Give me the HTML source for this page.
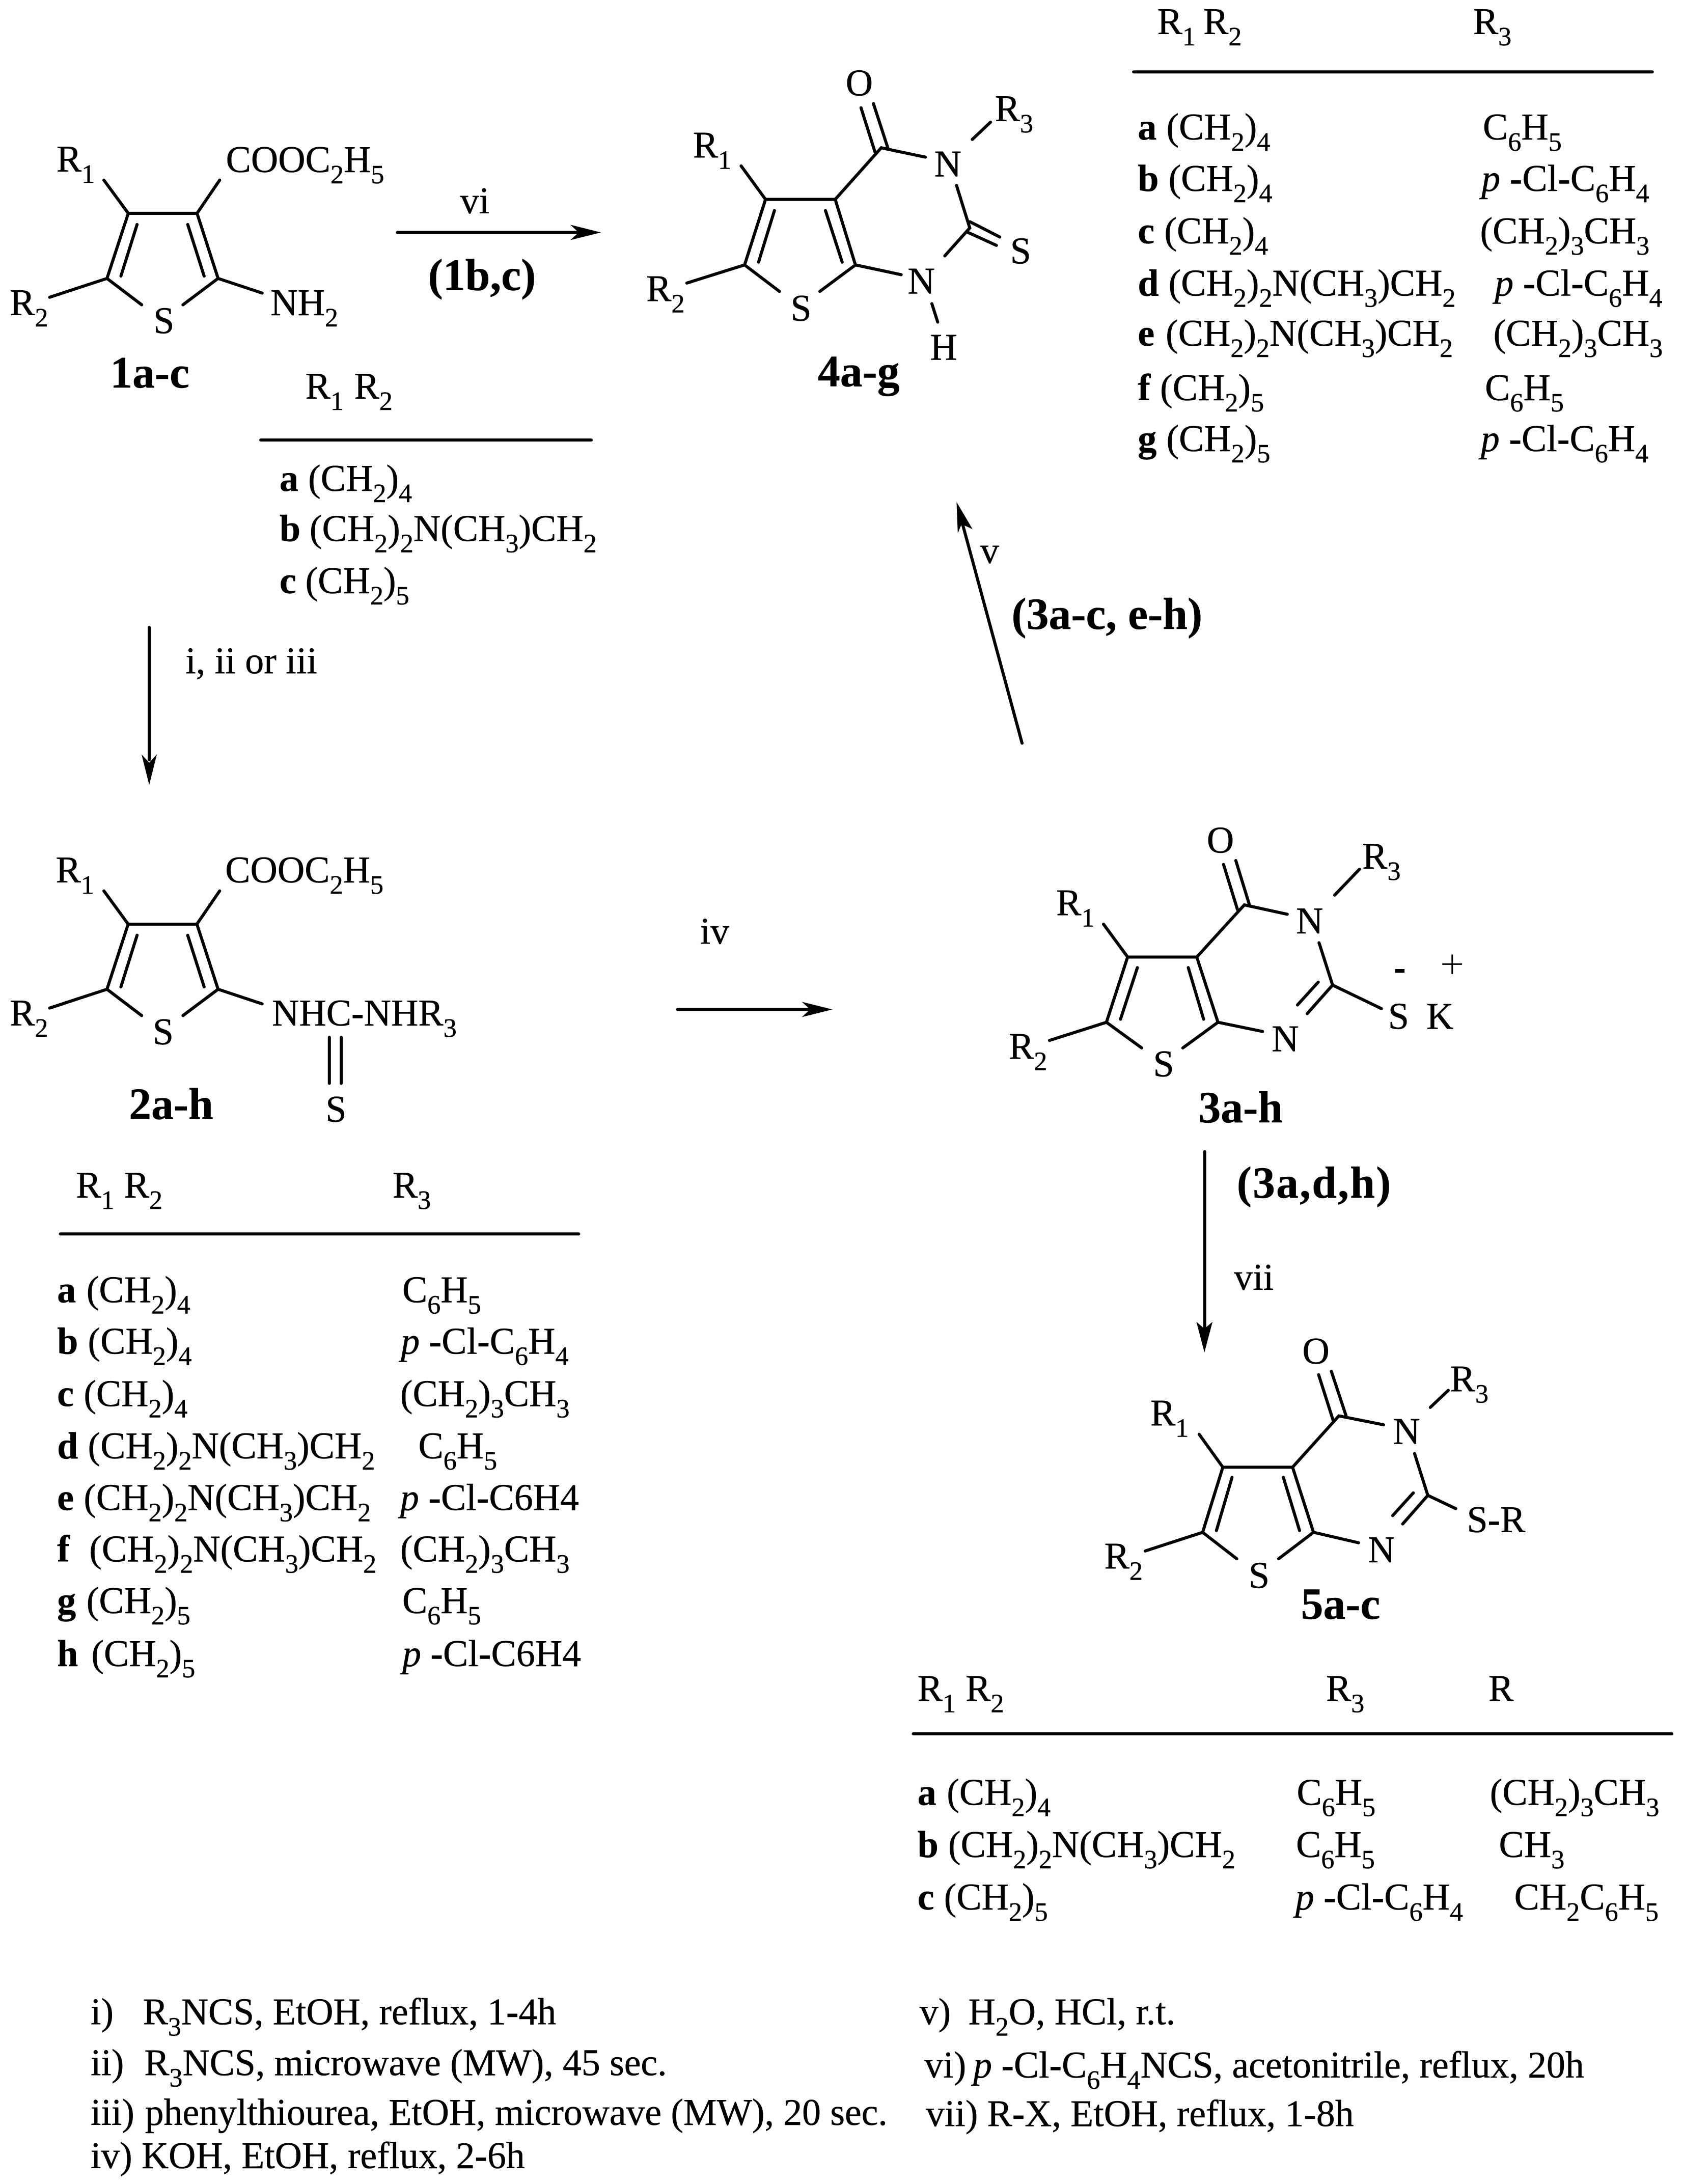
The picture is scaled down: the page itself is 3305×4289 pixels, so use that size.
<!DOCTYPE html>
<html><head><meta charset="utf-8"><style>
html,body{margin:0;padding:0;background:#fff}
svg{display:block;width:3305px;height:4289px}
text{font-family:"Liberation Serif",serif;font-size:27px;fill:#000;stroke:#000;stroke-width:.18;transform:translate(-1px,0)}
.s{font-size:19px;baseline-shift:-8px}
.b{font-weight:bold}
.l{font-weight:bold;font-size:32px}
.bd{stroke:#000;stroke-width:2.2;stroke-linecap:round;fill:none}
.i{font-style:italic}
.f{font-size:26.9px}
</style></head><body>
<svg xmlns="http://www.w3.org/2000/svg" viewBox="0 0 1207 1566.4">
<rect width="1207" height="1566.4" fill="#fff"/>
<!-- Compound 1 -->
<path class="bd" d="M92 153H141.300L156.400 199.700L131.200 218.600M92 153L76.700 199.700L101.600 218.600M98.300 161L86.700 198M134.600 161L146.400 198M92 153L74.500 129.200M141.300 153L157.500 129.200M76.700 199.700L35.600 213.200M156.400 199.700L188 210.200"/>
<text x="41.500" y="123">R<tspan class="s">1</tspan></text>
<text x="163" y="123.500">COOC<tspan class="s">2</tspan>H<tspan class="s">5</tspan></text>
<text x="8" y="226">R<tspan class="s">2</tspan></text>
<text x="111" y="239">S</text>
<text x="195" y="226">NH<tspan class="s">2</tspan></text>
<text class="l" x="80" y="278">1a-c</text>
<!-- vi arrow -->
<text x="331" y="153">vi</text>
<path class="bd" d="M285 166.700H420"/><polygon points="431,166.700 409,161.200 415,166.700 409,172.200"/>
<text class="l" x="308" y="208">(1b,c)</text>
<!-- table 1 -->
<text x="220" y="286">R<tspan class="s">1</tspan></text><text x="255" y="286">R<tspan class="s">2</tspan></text>
<path class="bd" d="M187 315.600H424"/>
<text x="201.500" y="352"><tspan class="b">a</tspan></text><text x="222" y="352">(CH<tspan class="s">2</tspan>)<tspan class="s">4</tspan></text>
<text x="201.500" y="388"><tspan class="b">b</tspan></text><text x="223" y="388">(CH<tspan class="s">2</tspan>)<tspan class="s">2</tspan>N(CH<tspan class="s">3</tspan>)CH<tspan class="s">2</tspan></text>
<text x="201.500" y="425.500"><tspan class="b">c</tspan></text><text x="220" y="425.500">(CH<tspan class="s">2</tspan>)<tspan class="s">5</tspan></text>
<!-- i, ii arrow -->
<path class="bd" d="M107 450V545"/><polygon points="107,563 101.500,541 107,547 112.500,541"/>
<text x="134" y="483">i, ii or iii</text>
<!-- Compound 2 -->
<path class="bd" d="M91.900 662.800H141.200L156.400 709.500L131.200 728.400M91.900 662.800L76.700 709.500L101.600 728.400M98.300 670.800L86.700 707.800M134.600 670.800L146.400 707.800M91.900 662.800L74.500 639M141.200 662.800L157.500 639M76.700 709.500L35.600 723M156.400 709.500L188 720M236.200 744V777M244.700 744V777"/>
<text x="41" y="633">R<tspan class="s">1</tspan></text>
<text x="162.500" y="633">COOC<tspan class="s">2</tspan>H<tspan class="s">5</tspan></text>
<text x="8" y="735.500">R<tspan class="s">2</tspan></text>
<text x="110.500" y="749">S</text>
<text x="196" y="735.500">NHC<tspan class="b">-</tspan>NHR<tspan class="s">3</tspan></text>
<text x="234.500" y="804.500">S</text>
<text class="l" x="93.500" y="802.500">2a-h</text>
<!-- table 2 -->
<text x="55.500" y="859">R<tspan class="s">1</tspan></text><text x="90" y="859">R<tspan class="s">2</tspan></text><text x="282.500" y="859">R<tspan class="s">3</tspan></text>
<path class="bd" d="M43.300 885H415"/>
<text x="42" y="934"><tspan class="b">a</tspan></text><text x="63" y="934">(CH<tspan class="s">2</tspan>)<tspan class="s">4</tspan></text><text x="289.500" y="934">C<tspan class="s">6</tspan>H<tspan class="s">5</tspan></text>
<text x="42" y="971"><tspan class="b">b</tspan></text><text x="64" y="971">(CH<tspan class="s">2</tspan>)<tspan class="s">4</tspan></text><text x="288.500" y="971"><tspan class="i">p</tspan> <tspan class="b">-</tspan>Cl<tspan class="b">-</tspan>C<tspan class="s">6</tspan>H<tspan class="s">4</tspan></text>
<text x="42" y="1008.500"><tspan class="b">c</tspan></text><text x="61" y="1008.500">(CH<tspan class="s">2</tspan>)<tspan class="s">4</tspan></text><text x="288" y="1008.500">(CH<tspan class="s">2</tspan>)<tspan class="s">3</tspan>CH<tspan class="s">3</tspan></text>
<text x="42" y="1046"><tspan class="b">d</tspan></text><text x="64" y="1046">(CH<tspan class="s">2</tspan>)<tspan class="s">2</tspan>N(CH<tspan class="s">3</tspan>)CH<tspan class="s">2</tspan></text><text x="301" y="1046">C<tspan class="s">6</tspan>H<tspan class="s">5</tspan></text>
<text x="42" y="1083"><tspan class="b">e</tspan></text><text x="61" y="1083">(CH<tspan class="s">2</tspan>)<tspan class="s">2</tspan>N(CH<tspan class="s">3</tspan>)CH<tspan class="s">2</tspan></text><text x="288" y="1083"><tspan class="i">p</tspan> <tspan class="b">-</tspan>Cl<tspan class="b">-</tspan>C6H4</text>
<text x="42" y="1120"><tspan class="b">f</tspan></text><text x="65" y="1120">(CH<tspan class="s">2</tspan>)<tspan class="s">2</tspan>N(CH<tspan class="s">3</tspan>)CH<tspan class="s">2</tspan></text><text x="288" y="1120">(CH<tspan class="s">2</tspan>)<tspan class="s">3</tspan>CH<tspan class="s">3</tspan></text>
<text x="42" y="1157"><tspan class="b">g</tspan></text><text x="63" y="1157">(CH<tspan class="s">2</tspan>)<tspan class="s">5</tspan></text><text x="289.500" y="1157">C<tspan class="s">6</tspan>H<tspan class="s">5</tspan></text>
<text x="42" y="1195"><tspan class="b">h</tspan></text><text x="66.500" y="1195">(CH<tspan class="s">2</tspan>)<tspan class="s">5</tspan></text><text x="289.500" y="1195"><tspan class="i">p</tspan> <tspan class="b">-</tspan>Cl<tspan class="b">-</tspan>C6H4</text>
<!-- iv arrow -->
<text x="503" y="677">iv</text>
<path class="bd" d="M486 724H586"/><polygon points="597,724 575,718.500 581,724 575,729.500"/>
<!-- Compound 4 -->
<path class="bd" d="M549 143H599L613.500 190L588 209M549 143L534 190L559 209M555.400 151L544 188M592 151L604 188M549 143L531.500 119M534 190L492.600 203M599 143L632 106L663.600 112.700M617.500 77.300L627.500 109M626.400 74.300L636.700 106M697.300 100L710.400 87.600M686 133L695.500 163.500L677.600 183.500M695.500 159L717 170M694 166.600L714.600 176M613.500 190L646.300 197M668.300 217.800L672.500 231"/>
<text x="607.500" y="68.500">O</text>
<text x="498" y="113">R<tspan class="s">1</tspan></text>
<text x="671" y="126.500">N</text>
<text x="714.500" y="87">R<tspan class="s">3</tspan></text>
<text x="725.500" y="189">S</text>
<text x="464.500" y="216">R<tspan class="s">2</tspan></text>
<text x="568" y="230">S</text>
<text x="652" y="210.500">N</text>
<text x="668" y="258">H</text>
<text class="l" x="587.500" y="277">4a-g</text>
<!-- table 4 -->
<text x="831" y="24.500">R<tspan class="s">1</tspan></text><text x="864" y="24.500">R<tspan class="s">2</tspan></text><text x="1057.500" y="24.500">R<tspan class="s">3</tspan></text>
<path class="bd" d="M813 51.600H1185"/>
<text x="817" y="100"><tspan class="b">a</tspan></text><text x="837.500" y="100">(CH<tspan class="s">2</tspan>)<tspan class="s">4</tspan></text><text x="1064.500" y="100">C<tspan class="s">6</tspan>H<tspan class="s">5</tspan></text>
<text x="817" y="137"><tspan class="b">b</tspan></text><text x="839" y="137">(CH<tspan class="s">2</tspan>)<tspan class="s">4</tspan></text><text x="1063.500" y="137"><tspan class="i">p</tspan> <tspan class="b">-</tspan>Cl<tspan class="b">-</tspan>C<tspan class="s">6</tspan>H<tspan class="s">4</tspan></text>
<text x="817" y="174.500"><tspan class="b">c</tspan></text><text x="836" y="174.500">(CH<tspan class="s">2</tspan>)<tspan class="s">4</tspan></text><text x="1062.500" y="174.500">(CH<tspan class="s">2</tspan>)<tspan class="s">3</tspan>CH<tspan class="s">3</tspan></text>
<text x="817" y="212"><tspan class="b">d</tspan></text><text x="839" y="212">(CH<tspan class="s">2</tspan>)<tspan class="s">2</tspan>N(CH<tspan class="s">3</tspan>)CH<tspan class="s">2</tspan></text><text x="1073" y="212"><tspan class="i">p</tspan> <tspan class="b">-</tspan>Cl<tspan class="b">-</tspan>C<tspan class="s">6</tspan>H<tspan class="s">4</tspan></text>
<text x="817" y="248"><tspan class="b">e</tspan></text><text x="837" y="248">(CH<tspan class="s">2</tspan>)<tspan class="s">2</tspan>N(CH<tspan class="s">3</tspan>)CH<tspan class="s">2</tspan></text><text x="1072" y="248">(CH<tspan class="s">2</tspan>)<tspan class="s">3</tspan>CH<tspan class="s">3</tspan></text>
<text x="817" y="287"><tspan class="b">f</tspan></text><text x="833" y="287">(CH<tspan class="s">2</tspan>)<tspan class="s">5</tspan></text><text x="1066" y="287">C<tspan class="s">6</tspan>H<tspan class="s">5</tspan></text>
<text x="817" y="323.500"><tspan class="b">g</tspan></text><text x="837.500" y="323.500">(CH<tspan class="s">2</tspan>)<tspan class="s">5</tspan></text><text x="1063" y="323.500"><tspan class="i">p</tspan> <tspan class="b">-</tspan>Cl<tspan class="b">-</tspan>C<tspan class="s">6</tspan>H<tspan class="s">4</tspan></text>
<!-- v arrow -->
<path class="bd" d="M733 533L689 371"/><polygon points="686,360 697.500,379.500 689.600,376 686.900,382.400"/>
<text x="704" y="404">v</text>
<text class="l" x="726.500" y="451">(3a-c, e-h)</text>
<!-- Compound 3 -->
<path class="bd" d="M808.700 686.400H858.300L873.500 733.200L848.300 751.600M808.700 686.400L793.500 733.200L818.800 751.600M815.700 694L803.600 731M852.200 694L863.200 731M808.700 686.400L791.400 662.800M793.500 733.200L752.700 746.200M858.300 686.400L892.400 649L923.200 655.700M877.500 620L887.500 652.400M886.300 617.200L896 648.800M957.200 642L975 623.400M946 676.200L955.700 706.500L937.500 727M945.400 704.400L930.500 720.800M955.700 706.500L990.700 723.400M873.500 733.200L905.500 739.800"/>
<path d="M1034.400 691.500H1048.500M1041.500 684.600V698.600" stroke="#000" stroke-width="1.100" fill="none"/>
<rect x="1000.500" y="695" width="6.800" height="2.700"/>
<text x="866.500" y="611.500">O</text>
<text x="758.500" y="656.500">R<tspan class="s">1</tspan></text>
<text x="930.500" y="669.500">N</text>
<text x="978" y="623">R<tspan class="s">3</tspan></text>
<text x="996.500" y="738">S</text>
<text x="1024" y="738">K</text>
<text x="724.500" y="759.500">R<tspan class="s">2</tspan></text>
<text x="913" y="754">N</text>
<text x="828" y="772">S</text>
<text class="l" x="860.500" y="805">3a-h</text>
<!-- down arrow -->
<path class="bd" d="M864 826V952"/><polygon points="863.800,970 858,948 863.800,953 869.600,948"/>
<text class="l" x="888" y="859" style="letter-spacing:.8px">(3a,d,h)</text>
<text x="886" y="925">vii</text>
<!-- Compound 5 -->
<path class="bd" d="M877 1052.300H927L942 1099L917 1118M877 1052.300L862.500 1099L887 1118M883.600 1059.600L872.400 1097.700M920.400 1059.600L932 1097.700M877 1052.300L860 1028.700M862.500 1099L821.300 1112.400M927 1052.300L960.200 1015.500L992.300 1021.900M945.700 986L956.200 1019M954.800 983.500L965.400 1015.500M1025.800 1009.400L1038.700 997.200M1014.500 1042.600L1024 1072.500L1006 1093M1013.600 1070.700L998.800 1087M1024 1072.500L1044 1082M942 1099L974.300 1106.500"/>
<text x="935" y="978">O</text>
<text x="826" y="1022.500">R<tspan class="s">1</tspan></text>
<text x="1000" y="1035.500">N</text>
<text x="1041" y="998">R<tspan class="s">3</tspan></text>
<text x="1053" y="1099">S<tspan class="b">-</tspan>R</text>
<text x="793" y="1125">R<tspan class="s">2</tspan></text>
<text x="982" y="1120.500">N</text>
<text x="896.500" y="1139">S</text>
<text class="l" x="934" y="1161">5a-c</text>
<!-- table 5 -->
<text x="659" y="1220">R<tspan class="s">1</tspan></text><text x="693.500" y="1220">R<tspan class="s">2</tspan></text><text x="952" y="1220">R<tspan class="s">3</tspan></text><text x="1068.500" y="1220">R</text>
<path class="bd" d="M655 1243.500H1199"/>
<text x="659" y="1294.500"><tspan class="b">a</tspan></text><text x="680" y="1294.500">(CH<tspan class="s">2</tspan>)<tspan class="s">4</tspan></text><text x="931" y="1294.500">C<tspan class="s">6</tspan>H<tspan class="s">5</tspan></text><text x="1069.500" y="1294.500">(CH<tspan class="s">2</tspan>)<tspan class="s">3</tspan>CH<tspan class="s">3</tspan></text>
<text x="659" y="1332"><tspan class="b">b</tspan></text><text x="681" y="1332">(CH<tspan class="s">2</tspan>)<tspan class="s">2</tspan>N(CH<tspan class="s">3</tspan>)CH<tspan class="s">2</tspan></text><text x="930.500" y="1332">C<tspan class="s">6</tspan>H<tspan class="s">5</tspan></text><text x="1076" y="1332">CH<tspan class="s">3</tspan></text>
<text x="659" y="1369.500"><tspan class="b">c</tspan></text><text x="678" y="1369.500">(CH<tspan class="s">2</tspan>)<tspan class="s">5</tspan></text><text x="930" y="1369.500"><tspan class="i">p</tspan> <tspan class="b">-</tspan>Cl<tspan class="b">-</tspan>C<tspan class="s">6</tspan>H<tspan class="s">4</tspan></text><text x="1087" y="1369.500">CH<tspan class="s">2</tspan>C<tspan class="s">6</tspan>H<tspan class="s">5</tspan></text>
<!-- footnotes -->
<text class="f" x="66" y="1452">i)</text><text class="f" x="103.500" y="1452">R<tspan class="s">3</tspan>NCS, EtOH, reflux, 1<tspan class="b">-</tspan>4h</text>
<text class="f" x="66" y="1488.500">ii)</text><text class="f" x="104.500" y="1488.500">R<tspan class="s">3</tspan>NCS, microwave (MW), 45 sec.</text>
<text class="f" x="66" y="1524">iii)</text><text class="f" x="105" y="1524">phenylthiourea, EtOH, microwave (MW), 20 sec.</text>
<text class="f" x="66" y="1555">iv)</text><text class="f" x="102.500" y="1555">KOH, EtOH, reflux, 2<tspan class="b">-</tspan>6h</text>
<text class="f" x="660.500" y="1452">v)</text><text class="f" x="695.500" y="1452">H<tspan class="s">2</tspan>O, HCl, r.t.</text>
<text class="f" x="664" y="1490">vi)</text><text class="f" x="699" y="1490"><tspan class="i">p</tspan> <tspan class="b">-</tspan>Cl<tspan class="b">-</tspan>C<tspan class="s">6</tspan>H<tspan class="s">4</tspan>NCS, acetonitrile, reflux, 20h</text>
<text class="f" x="665" y="1525">vii)</text><text class="f" x="709" y="1525">R<tspan class="b">-</tspan>X, EtOH, reflux, 1-8h</text>
</svg>
</body></html>
